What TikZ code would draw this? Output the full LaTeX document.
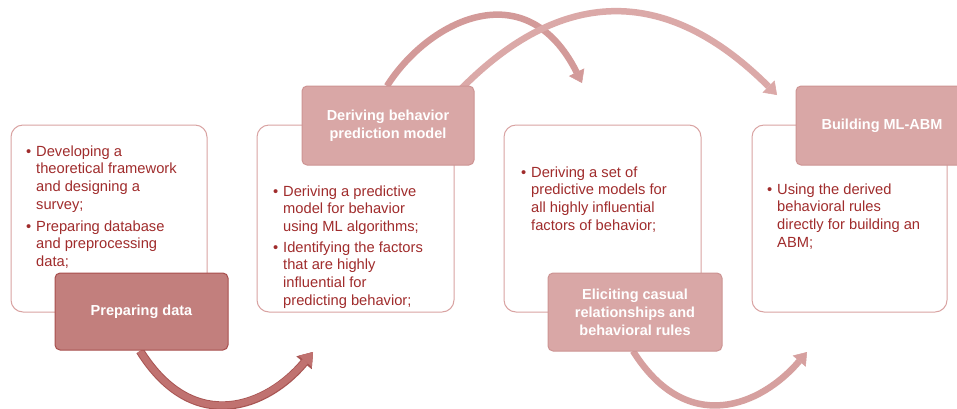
\documentclass[tikz,border=0pt]{standalone}
\usepackage{fontspec}
\setmainfont{Liberation Sans}
\usetikzlibrary{arrows.meta}
\definecolor{boxline}{HTML}{D9A3A2}
\definecolor{labA}{HTML}{C27F7D}
\definecolor{labAline}{HTML}{A84F4D}
\definecolor{labB}{HTML}{D9A7A6}
\definecolor{labBline}{HTML}{CD9493}
\definecolor{txt}{HTML}{A02C2C}
\definecolor{arrOne}{HTML}{C07270}
\definecolor{arrOneline}{HTML}{A85553}
\definecolor{arrTwo}{HTML}{D6A09F}
\definecolor{arrTop}{HTML}{D39A99}
\definecolor{arrTopB}{HTML}{DBA9A8}
\begin{document}
\begin{tikzpicture}[x=1pt,y=-1pt,
  panel/.style={draw=boxline, line width=1pt, rounded corners=12pt, fill=white, inner sep=0pt},
  labelbox/.style={rounded corners=5pt, line width=1pt, text=white, inner sep=0pt,
    font=\bfseries\fontsize{14.5}{18}\selectfont, align=center},
  item/.style={inner sep=0pt, anchor=north west, align=left, text=txt,
    font=\fontsize{14.7}{17.8}\selectfont},
  bigarrow/.style={line width=6.5pt, -{Triangle[width=17pt,length=12pt,line width=0.5pt]}},
]
\clip (0,0) rectangle (957,408);
\fill[white] (0,0) rectangle (957,408);

% panels
\node[panel, minimum width=196pt, minimum height=187pt] (p1) at (109,218.5) {};
\node[panel, minimum width=197pt, minimum height=187pt] (p2) at (355.5,218.5) {};
\node[panel, minimum width=197pt, minimum height=187pt] (p3) at (602.5,218.5) {};
\node[panel, minimum width=195pt, minimum height=187pt] (p4) at (849.5,218.5) {};

% arrow end points
\coordinate (a1s) at (140,351);
\coordinate (a1e) at (313,352);
\coordinate (a2s) at (633,351);
\coordinate (a2e) at (807,352);
\coordinate (aAs) at (387,86);
\coordinate (aAe) at (582,83);
\coordinate (aBs) at (460,90);
\coordinate (aBe) at (777,95);

% arrows
\draw[bigarrow, arrTop] (aAs) .. controls (428,21) and (526,-29) .. (aAe);
\draw[bigarrow, arrTopB] (aBs) .. controls (559,-11) and (664,-18) .. (aBe);
\draw[preaction={draw=arrOneline, line width=8.5pt, -{Triangle[width=20pt,length=14pt,line width=0.5pt]}},
      bigarrow, arrOne] (a1s) .. controls (194,437) and (268,406) .. (a1e);
\draw[bigarrow, arrTwo] (a2s) .. controls (687,437) and (761,406) .. (a2e);

% label boxes
\node[labelbox, fill=labA, draw=labAline, minimum width=173pt, minimum height=77pt] (L1) at (141.5,311.5) {Preparing data};
\node[labelbox, fill=labB, draw=labBline, minimum width=172pt, minimum height=79pt] (L2) at (388,125.5) {Deriving behavior\\prediction model};
\node[labelbox, fill=labB, draw=labBline, minimum width=174pt, minimum height=78pt] (L3) at (635,312) {Eliciting casual\\relationships and\\behavioral rules};
\node[labelbox, fill=labB, draw=labBline, minimum width=172pt, minimum height=79pt] (L4) at (882,125.5) {Building ML-ABM};

% bullet texts
\node[item] (t1a) at (36,143.5) {\strut\llap{•\hspace{5pt}}Developing a\\theoretical framework\\and designing a\\survey;};
\node[item] (t1b) at (36,218.5) {\strut\llap{•\hspace{5pt}}Preparing database\\and preprocessing\\data;};
\node[item] (t2a) at (283,183.5) {\strut\llap{•\hspace{5pt}}Deriving a predictive\\model for behavior\\using ML algorithms;};
\node[item] (t2b) at (283,239.5) {\strut\llap{•\hspace{5pt}}Identifying the factors\\that are highly\\influential for\\predicting behavior;};
\node[item] (t3a) at (531,164.5) {\strut\llap{•\hspace{5pt}}Deriving a set of\\predictive models for\\all highly influential\\factors of behavior;};
\node[item] (t4a) at (777,181.5) {\strut\llap{•\hspace{5pt}}Using the derived\\behavioral rules\\directly for building an\\ABM;};
\end{tikzpicture}
\end{document}
